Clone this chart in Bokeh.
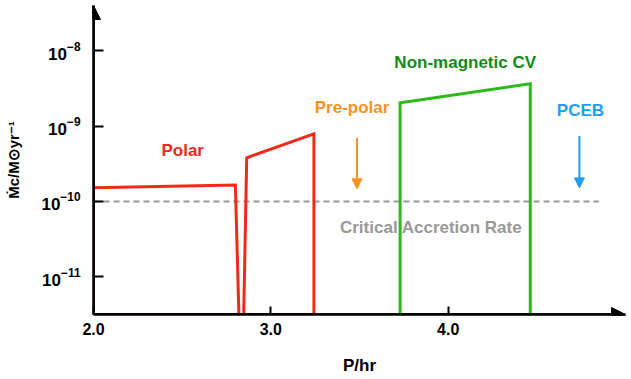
import numpy as np
from bokeh.plotting import figure
from bokeh.models import Range1d, FixedTicker, Arrow, NormalHead, NumeralTickFormatter
from bokeh.core.properties import value
from bokeh.embed import file_html
from bokeh.resources import INLINE

# ---- data ----
floor_rate = 10 ** -11.5
top_rate = 10 ** -7.4
p_start, p_end = 2.0, 5.0

polar_p = [2.0, 2.0, 2.80, 2.82, 2.847, 2.864, 3.243, 3.243, 2.0]
polar_rate = [floor_rate, 1.52e-10, 1.65e-10, floor_rate, floor_rate, 3.8e-10, 7.9e-10, floor_rate, floor_rate]

cv_p = [3.729, 3.729, 4.463, 4.463, 3.729]
cv_rate = [floor_rate, 2.04e-9, 3.65e-9, floor_rate, floor_rate]

crit_p = [2.0, 4.85]
crit_rate = [1e-10, 1e-10]

x_ticks = [2.0, 3.0, 4.0]
y_ticks = [1e-11, 1e-10, 1e-9, 1e-8]

labels = ["Polar", "Pre-polar", "Non-magnetic CV", "PCEB", "Critical Accretion Rate"]
label_p = [2.503, 3.458, 4.096, 4.746, 3.904]
label_rate = [10 ** -9.33, 10 ** -8.757, 10 ** -8.16, 10 ** -8.797, 10 ** -10.35]
label_colors = ["#ee2a1a", "#f7941d", "#138a13", "#1ea0ee", "#999999"]

marker_p = [3.486, 4.74]
marker_top = [10 ** -9.155, 10 ** -9.13]
marker_bottom = [10 ** -9.833, 10 ** -9.82]
marker_colors = ["#f7941d", "#1ea0ee"]

FONT = "Liberation Sans"

p = figure(width=631, height=379, output_backend="svg", toolbar_location=None,
           y_axis_type="log",
           x_range=Range1d(p_start, p_end), y_range=Range1d(floor_rate, top_rate),
           min_border_left=93, min_border_right=6, min_border_top=5, min_border_bottom=65)
p.outline_line_color = None
p.grid.visible = False
p.background_fill_color = "white"
p.border_fill_color = "white"

for ax in (p.xaxis[0], p.yaxis[0]):
    ax.axis_line_width = 2.5
    ax.axis_line_color = "black"
    ax.major_tick_line_width = 2
    ax.major_tick_line_color = "black"
    ax.major_tick_out = 0
    ax.minor_tick_line_color = None
    ax.major_label_text_font = FONT
    ax.major_label_text_font_style = "bold"
    ax.major_label_text_color = "black"
    ax.axis_label_text_font = FONT
    ax.axis_label_text_font_style = "bold"
    ax.axis_label_text_color = "black"

p.xaxis.ticker = FixedTicker(ticks=x_ticks)
p.xaxis.formatter = NumeralTickFormatter(format="0.0")
p.xaxis.major_tick_in = 8
p.xaxis.major_label_standoff = 8
p.xaxis.major_label_text_font_size = "16px"
p.xaxis.axis_label = "P/hr"
p.xaxis.axis_label_text_font_size = "17px"
p.xaxis.axis_label_standoff = 18

p.yaxis.ticker = FixedTicker(ticks=y_ticks)
p.yaxis.major_tick_in = 10
p.yaxis.major_label_standoff = 13
p.yaxis.major_label_text_font_size = "17px"
p.yaxis.axis_label = "Ṁc/M⊙yr⁻¹"
p.yaxis.axis_label_text_font_size = "15px"
p.yaxis.axis_label_standoff = 16

# critical line
p.line(crit_p, crit_rate, line_color="#999999", line_width=2, line_dash="6 4")

# curves
p.line(polar_p, polar_rate, line_color="#ee2a1a", line_width=3, line_join="miter")
p.line(cv_p, cv_rate, line_color="#2cba1a", line_width=3, line_join="miter")

# labels
p.text(x=label_p, y=label_rate, text=labels, text_color=label_colors,
       text_font=value(FONT), text_font_style="bold", text_font_size="17px",
       text_align="center", text_baseline="middle")

# marker arrows
for xp, yt, yb, c in zip(marker_p, marker_top, marker_bottom, marker_colors):
    p.add_layout(Arrow(x_start=xp, y_start=yt, x_end=xp, y_end=yb,
                       line_color=c, line_width=2,
                       end=NormalHead(size=10, fill_color=c, line_color=c)))

# axis arrows
p.add_layout(Arrow(x_start=p_start, y_start=floor_rate, x_end=p_start, y_end=top_rate,
                   line_color="black", line_width=2.5,
                   end=NormalHead(size=14, fill_color="black", line_color="black")))
p.add_layout(Arrow(x_start=p_start, y_start=floor_rate, x_end=p_end, y_end=floor_rate,
                   line_color="black", line_width=2.5,
                   end=NormalHead(size=14, fill_color="black", line_color="black")))

open("out.html", "w").write(file_html(p, INLINE))
